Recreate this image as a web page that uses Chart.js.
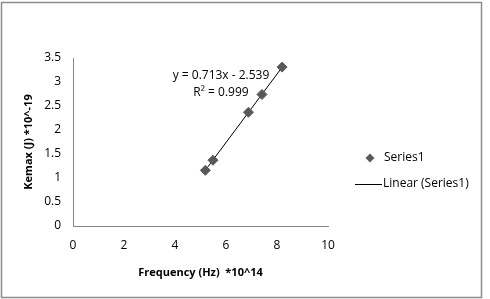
<!DOCTYPE html>
<html>
<head>
<meta charset="utf-8">
<script src="https://cdn.jsdelivr.net/npm/chart.js@4"></script>
<style>
  html, body { margin: 0; padding: 0; background: #fff; }
  #wrap { width: 490px; height: 299px; }
</style>
</head>
<body>
<div id="wrap"><canvas id="c" width="490" height="299"></canvas></div>
<script>
// données
const frequences = [5.19, 5.49, 6.88, 7.41, 8.20];
const energies = [1.16, 1.37, 2.37, 2.74, 3.31];
const pente = 0.713;
const ordonnee = -2.539;
const r2 = 0.999;
const etiquettesSeries = ['Series1', 'Linear (Series1)'];

const police = "'Open Sans', 'Noto Sans', sans-serif";

const xMin = Math.min(...frequences);
const xMax = Math.max(...frequences);
const tendance = [xMin, xMax].map(x => ({ x: x, y: pente * x + ordonnee }));

// cadre + légende + équation
const decor = {
  id: 'decor',
  afterDraw(chart) {
    const ctx = chart.ctx;
    ctx.save();
    ctx.strokeStyle = '#8c8c8c';
    ctx.lineWidth = 1.5;
    ctx.strokeRect(1.5, 2.5, 480, 295);

    ctx.font = '12px ' + police;
    ctx.fillStyle = '#000';
    ctx.textBaseline = 'middle';
    // équation
    ctx.textAlign = 'center';
    ctx.fillText('y = ' + pente + 'x - ' + Math.abs(ordonnee), 221, 76);
    ctx.fillText('R\u00B2 = ' + r2, 221, 93);

    // légende
    ctx.textAlign = 'left';
    ctx.fillStyle = '#595959';
    ctx.beginPath();
    const lx = 370, ly = 158;
    ctx.moveTo(lx, ly - 4.5); ctx.lineTo(lx + 4.5, ly); ctx.lineTo(lx, ly + 4.5); ctx.lineTo(lx - 4.5, ly);
    ctx.closePath(); ctx.fill();
    ctx.fillStyle = '#000';
    ctx.fillText(etiquettesSeries[0], 384, 158);
    ctx.strokeStyle = '#000';
    ctx.lineWidth = 1;
    ctx.beginPath(); ctx.moveTo(355, 184.5); ctx.lineTo(382, 184.5); ctx.stroke();
    ctx.fillText(etiquettesSeries[1], 383, 184);
    ctx.restore();
  }
};

new Chart(document.getElementById('c').getContext('2d'), {
  type: 'scatter',
  data: {
    datasets: [{
      label: etiquettesSeries[0],
      data: frequences.map((x, i) => ({ x: x, y: energies[i] })),
      pointStyle: 'rectRot',
      pointRadius: 5,
      backgroundColor: '#595959',
      borderColor: '#595959',
      showLine: false,
      order: 1
    }, {
      label: etiquettesSeries[1],
      data: tendance,
      showLine: true,
      borderColor: '#000',
      borderWidth: 1,
      pointRadius: 0,
      order: 2
    }]
  },
  options: {
    responsive: false,
    animation: false,
    layout: { padding: { left: 0, right: 162, top: 58, bottom: 0 } },
    plugins: { legend: { display: false }, tooltip: { enabled: false } },
    scales: {
      x: {
        type: 'linear', min: 0, max: 10,
        ticks: { stepSize: 2, color: '#000', font: { family: police, size: 12 }, padding: 12 },
        grid: { display: false, drawTicks: false },
        border: { color: '#868686', width: 1 },
        title: { display: true, text: 'Frequency (Hz)  *10^14', color: '#000', font: { family: police, size: 11, weight: 'bold' }, padding: { top: 0, bottom: 20 } },
        afterFit: s => { s.height = 73; }
      },
      y: {
        type: 'linear', min: 0, max: 3.5,
        ticks: { stepSize: 0.5, color: '#000', font: { family: police, size: 12 }, padding: 12,
          callback: v => String(v) },
        grid: { display: false, drawTicks: false },
        border: { color: '#868686', width: 1 },
        title: { display: true, text: 'Kemax (J) *10^-19', color: '#000', font: { family: police, size: 11, weight: 'bold' }, padding: { top: 22, bottom: 0 } },
        afterFit: s => { s.width = 73; }
      }
    }
  },
  plugins: [decor]
});
</script>
</body>
</html>
